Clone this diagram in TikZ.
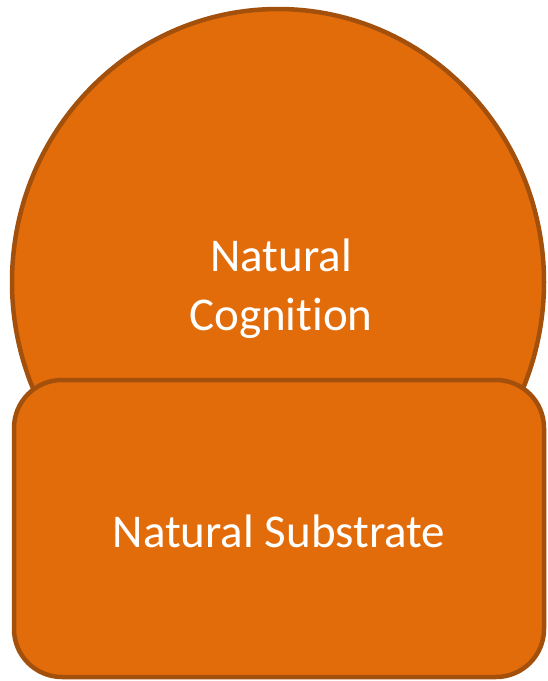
\documentclass[tikz,border=0pt]{standalone}
\usepackage{fontspec}
\setmainfont[Ligatures=NoCommon]{Carlito}
\usetikzlibrary{shapes.geometric}
\definecolor{blobfill}{HTML}{E36C0A}
\definecolor{blobline}{HTML}{A2500C}

\begin{document}
\begin{tikzpicture}[x=1pt,y=-1pt,line join=round]
  \useasboundingbox (0,0) rectangle (547,681);
  \tikzset{blob/.style={fill=blobfill,draw=blobline,line width=4.5pt,inner sep=0pt},
    blobtext/.style={text=white,font=\fontsize{47}{59}\selectfont,align=center,inner sep=0pt,anchor=base}}
  % upper ellipse
  \node[blob,ellipse,minimum width=532pt,minimum height=546pt] (cognition) at (278,282) {};
  \node[blobtext] (cognitionlabel) at (281,330) {Natural\\Cognition};
  % lower rounded box
  \node[blob,rectangle,rounded corners=48pt,minimum width=530pt,minimum height=297pt] (substrate) at (279,528.5) {};
  \node[blobtext] (substratelabel) at (279,547) {Natural Substrate};
\end{tikzpicture}
\end{document}
